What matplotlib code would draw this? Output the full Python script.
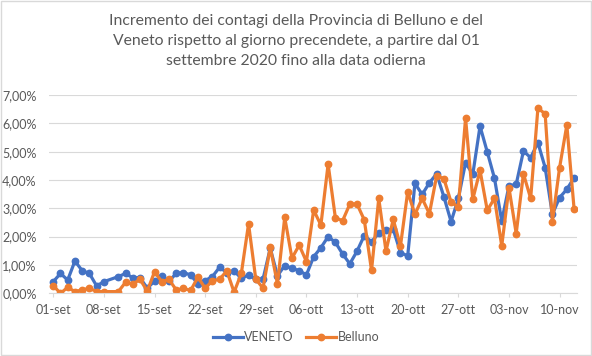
import matplotlib.pyplot as plt
import matplotlib as mpl
import numpy as np
import pandas as pd
from matplotlib.patches import Rectangle

_color_veneto = "#4472C4"
_color_belluno = "#ED7D31"
_text_color = "#595959"
_grid_color = "#D9D9D9"

# daily values (%), 01-set .. 12-nov 2020, 09-set missing
dates = pd.date_range("2020-09-01", "2020-11-12").drop(pd.Timestamp("2020-09-09"))

veneto = [
    0.41, 0.70, 0.47, 1.14, 0.80, 0.70, 0.26, 0.41, 0.59, 0.70,
    0.55, 0.55, 0.18, 0.43, 0.60, 0.43, 0.70, 0.73, 0.65, 0.33,
    0.45, 0.59, 0.92, 0.73, 0.79, 0.53, 0.65, 0.49, 0.50, 1.59,
    0.62, 0.98, 0.88, 0.80, 0.65, 1.29, 1.61, 2.00, 1.80, 1.39,
    1.04, 1.49, 2.04, 1.82, 2.12, 2.24, 2.26, 1.44, 1.32, 3.88,
    3.49, 3.90, 4.22, 3.41, 2.53, 3.35, 4.61, 4.20, 5.90, 4.99,
    4.06, 2.55, 3.79, 3.85, 5.02, 4.79, 5.32, 4.44, 2.79, 3.38,
    3.67, 4.08,
]
belluno = [
    0.27, 0.00, 0.21, 0.06, 0.12, 0.18, 0.06, 0.06, 0.06, 0.39,
    0.33, 0.49, 0.08, 0.76, 0.41, 0.49, 0.12, 0.17, 0.10, 0.57,
    0.18, 0.44, 0.50, 0.79, 0.04, 0.70, 2.45, 0.50, 0.18, 1.62,
    0.33, 2.68, 1.24, 1.70, 1.12, 2.94, 2.41, 4.56, 2.67, 2.56,
    3.15, 3.15, 2.59, 0.81, 3.35, 1.49, 2.61, 1.67, 3.58, 2.79,
    3.35, 2.81, 4.14, 4.05, 3.22, 3.05, 6.18, 3.32, 4.34, 2.93,
    3.35, 1.67, 3.73, 2.11, 4.22, 3.35, 6.53, 6.34, 2.52, 4.44,
    5.94, 2.99,
]

tick_dates = pd.date_range("2020-09-01", periods=11, freq="7D")
tick_labels = ["01-set", "08-set", "15-set", "22-set", "29-set", "06-ott",
               "13-ott", "20-ott", "27-ott", "03-nov", "10-nov"]

plt.rcParams["font.family"] = ["Lato", "DejaVu Sans"]

fig = plt.figure(figsize=(5.92, 3.56), dpi=100)
ax = fig.add_axes([0.0828, 0.1761, 0.892, 0.557])

ax.plot(dates, veneto, color=_color_veneto, linewidth=2.3, marker="o",
        markersize=4.6, label="VENETO")
ax.plot(dates, belluno, color=_color_belluno, linewidth=2.3, marker="o",
        markersize=4.6, label="Belluno")

ax.set_ylim(0, 7)
ax.set_yticks(np.arange(0, 8, 1))
ax.yaxis.set_major_formatter(
    mpl.ticker.FuncFormatter(lambda v, p: f"{v:.2f}%".replace(".", ","))
)
ax.set_xlim(dates[0] - pd.Timedelta(hours=14), dates[-1] + pd.Timedelta(hours=10))
ax.set_xticks(tick_dates)
ax.set_xticklabels(tick_labels)

ax.grid(axis="y", color=_grid_color, linewidth=0.8)
ax.set_axisbelow(True)
for side in ["top", "right", "left"]:
    ax.spines[side].set_visible(False)
ax.spines["bottom"].set_color(_grid_color)
ax.tick_params(axis="y", length=0, labelsize=9, labelcolor=_text_color, pad=9)
ax.tick_params(axis="x", length=3, color=_grid_color, labelsize=9,
               labelcolor=_text_color, pad=5)

fig.text(0.5, 0.962,
         "Incremento dei contagi della Provincia di Belluno e del\n"
         "Veneto rispetto al giorno precendete, a partire dal 01\n"
         "settembre 2020 fino alla data odierna",
         ha="center", va="top", fontsize=11.3, color=_text_color, linespacing=1.55)

fig.legend(loc="center", bbox_to_anchor=(0.5, 0.053), ncol=2, frameon=False,
           fontsize=9, labelcolor=_text_color, handlelength=2.4,
           handletextpad=0.1, columnspacing=1.0, borderpad=0)

fig.patches.append(Rectangle((0.001, 0.002), 0.997, 0.995, transform=fig.transFigure,
                             fill=False, edgecolor=_grid_color, linewidth=1))

fig.savefig("out.png", dpi=100)
